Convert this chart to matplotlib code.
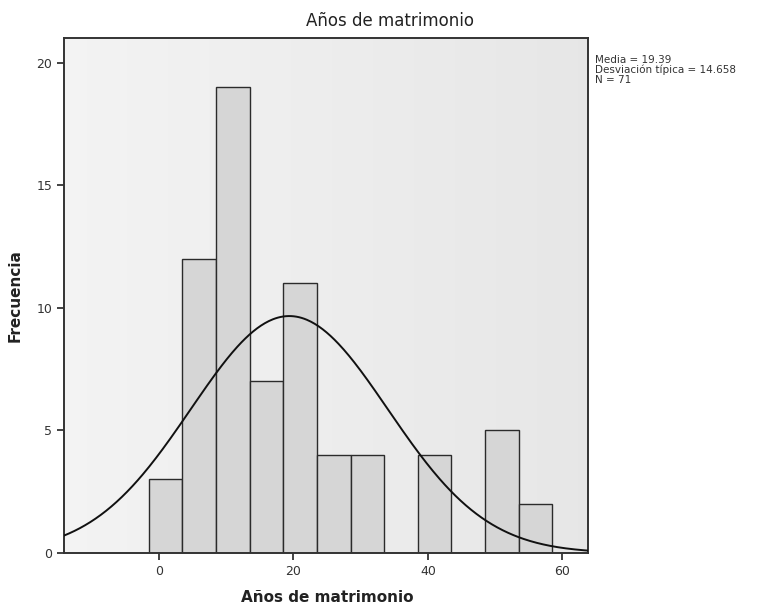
import numpy as np
import matplotlib
matplotlib.use("Agg")
import matplotlib.pyplot as plt

# histogram of "Años de matrimonio" (SPSS output)
bin_edges = [-1.5, 3.5, 8.5, 13.5, 18.5, 23.5, 28.5, 33.5, 38.5, 43.5, 48.5, 53.5, 58.5]
counts = [3, 12, 19, 7, 11, 4, 4, 0, 4, 0, 5, 2]
media = 19.39
desv = 14.658
n = 71
x_ticks = [0, 20, 40, 60]
y_ticks = [0, 5, 10, 15, 20]

fig = plt.figure(figsize=(7.6, 6.07), dpi=100)
ax = fig.add_axes([64/760, 1-553/607, (588-64)/760, (553-38)/607])

xmin, xmax = -14.1, 63.8
ymax = 21.0

# light grey gradient background like the scanned plot area
g = np.linspace(0.955, 0.905, 256)
bg = np.dstack([g, g, g]).reshape(1, -1, 3)
ax.imshow(bg, extent=[xmin, xmax, 0, ymax], aspect='auto', zorder=0)

lefts = np.array(bin_edges[:-1])
widths = np.diff(bin_edges)
ax.bar(lefts, counts, width=widths, align='edge', color='#d6d6d6',
       edgecolor='#2b2b2b', linewidth=1.0, zorder=2)

# normal curve scaled to the histogram
bw = widths[0]
xs = np.linspace(xmin, xmax, 400)
ys = n * bw / (desv * np.sqrt(2*np.pi)) * np.exp(-0.5*((xs - media)/desv)**2)
ax.plot(xs, ys, color='#111111', linewidth=1.4, zorder=3)

ax.set_xlim(xmin, xmax)
ax.set_ylim(0, ymax)
ax.set_xticks(x_ticks)
ax.set_yticks(y_ticks)
ax.tick_params(direction='out', length=5, width=1.2, labelsize=9,
               colors='#222222', labelcolor='#333333')
for s in ax.spines.values():
    s.set_linewidth(1.4)
    s.set_color('#333333')

ax.set_ylabel('Frecuencia', fontsize=11, fontweight='bold', color='#222222', labelpad=10)
fig.text(327/760, 1-598/607, 'Años de matrimonio', ha='center', va='center',
         fontsize=11, fontweight='bold', color='#222222')
fig.text(390/760, 1-21/607, 'Años de matrimonio', ha='center', va='center',
         fontsize=12, fontweight='medium', color='#222222')

fig.text(595/760, 1-70/607,
         'Media = %.2f\nDesviación típica = %.3f\nN = %d' % (media, desv, n),
         ha='left', va='center', fontsize=7.5, color='#333333', linespacing=0.95)

fig.savefig('out.png', dpi=100)
